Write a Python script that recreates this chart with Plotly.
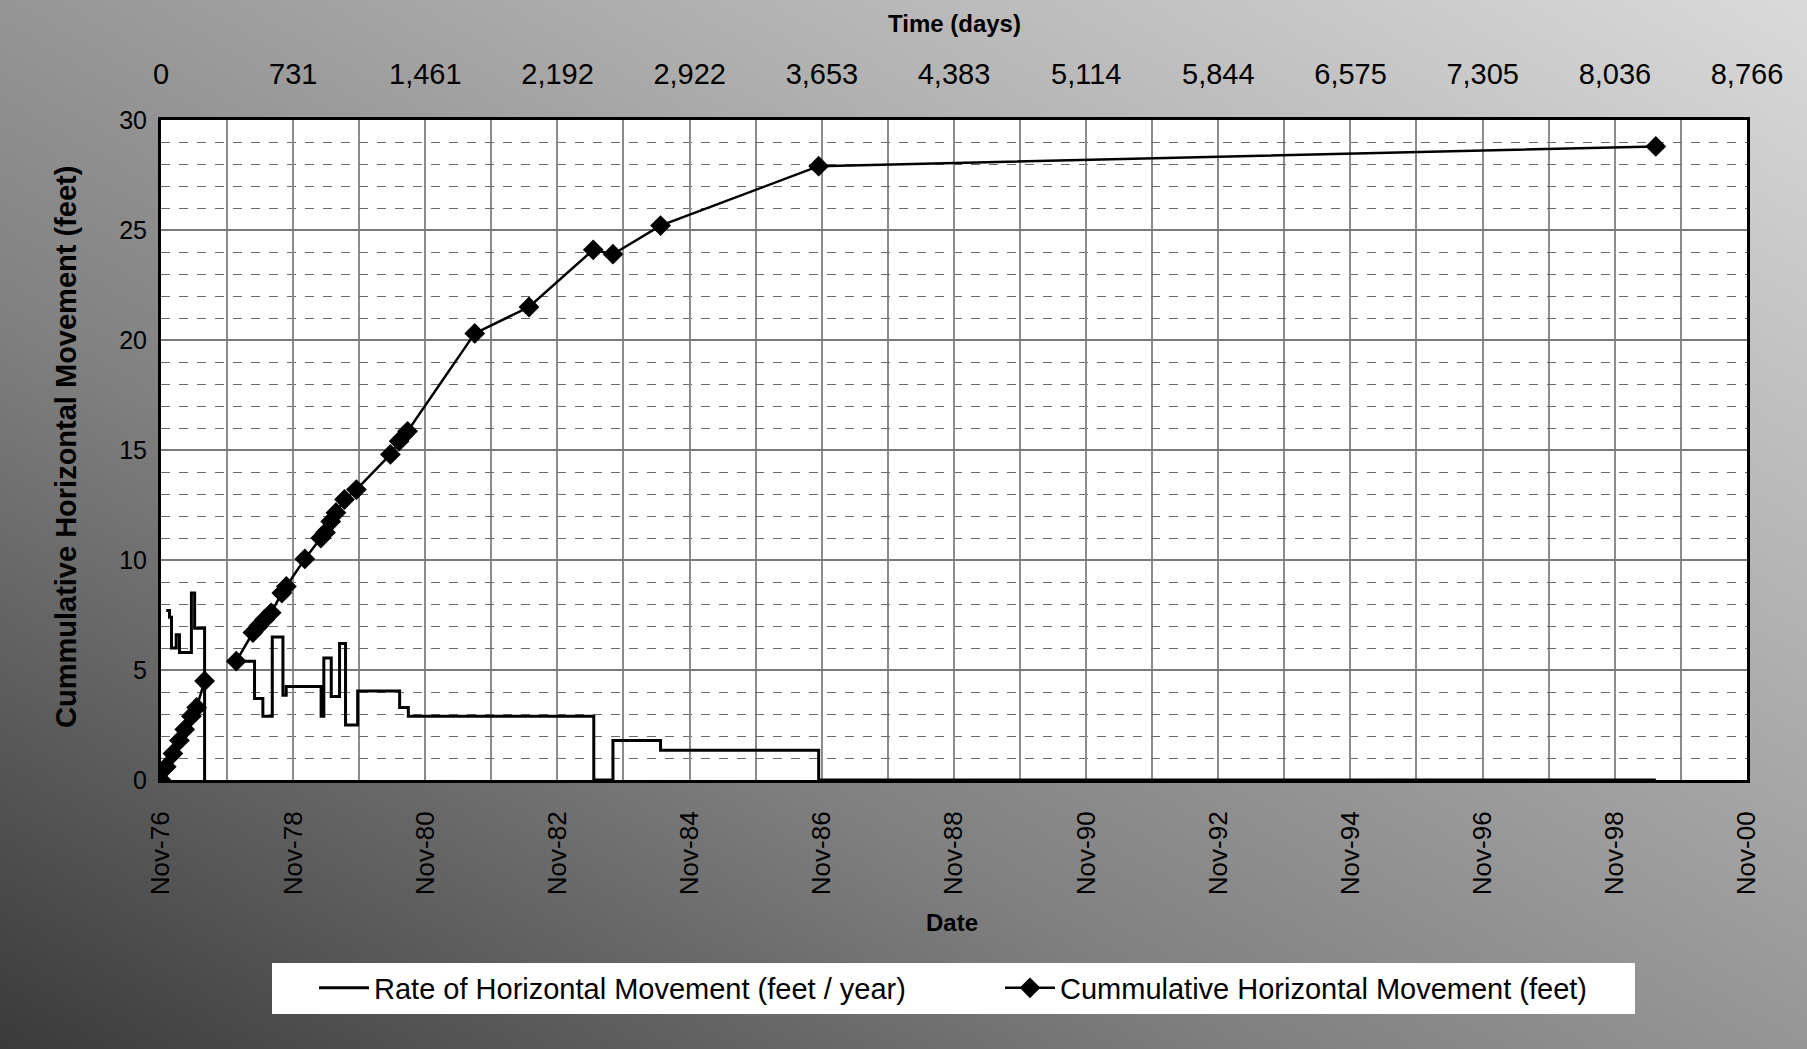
import base64
import plotly.graph_objects as go

# ---------------- data ----------------
rate_dates = ["1976-11-30", "1976-12-18", "1976-12-29", "1977-01-24", "1977-02-11",
              "1977-04-18", "1977-05-06", "1977-06-30", "1977-09-01",
              "1977-11-30", "1978-04-02", "1978-05-18", "1978-07-09", "1978-09-06",
              "1978-09-24", "1979-04-05", "1979-04-20", "1979-05-31", "1979-07-16",
              "1979-08-18", "1979-10-24", "1980-06-12", "1980-07-30", "1983-05-21",
              "1983-09-04", "1984-05-24", "1986-10-15", "1999-06-16"]
rate_vals = [7.7, 7.4, 6.0, 6.6, 5.8, 8.5, 6.9, 0, None,
             5.4, 3.7, 2.9, 6.5, 3.85, 4.25, 2.9, 5.55, 3.8, 6.2, 2.5, 4.05,
             3.3, 2.9, 0, 1.8, 1.35, 0, 0]

cum_dates = ["1976-11-01", "1976-11-30", "1977-01-06", "1977-02-11", "1977-03-12",
             "1977-04-18", "1977-05-17", "1977-06-30", "1977-09-01",
             "1977-12-22", "1978-03-24", "1978-04-25", "1978-05-28", "1978-07-03",
             "1978-08-31", "1978-09-25", "1979-01-05", "1979-04-03", "1979-04-29",
             "1979-05-28", "1979-06-26", "1979-08-12", "1979-10-17", "1980-04-22",
             "1980-06-09", "1980-07-26", "1981-08-01", "1982-05-28", "1983-05-18",
             "1983-09-04", "1984-05-24", "1986-10-15", "1999-06-16"]
cum_vals = [0, 0.6, 1.2, 1.8, 2.3, 2.9, 3.3, 4.5, None,
            5.4, 6.7, 7.0, 7.3, 7.6, 8.5, 8.8, 10.05, 11.0, 11.25, 11.75, 12.15,
            12.75, 13.2, 14.8, 15.4, 15.85, 20.3, 21.5, 24.1, 23.9, 25.2, 27.9, 28.8]

day_ticks = [0, 731, 1461, 2192, 2922, 3653, 4383, 5114, 5844, 6575, 7305, 8036, 8766]
day_tick_labels = ["0", "731", "1,461", "2,192", "2,922", "3,653", "4,383", "5,114",
                   "5,844", "6,575", "7,305", "8,036", "8,766"]

date_range = ["1976-11-01", "2000-11-01"]

# ---------------- figure ----------------
W, H = 1807, 1049
L, R, T, B = 161, 60, 120, 269
PW, PH = W - L - R, H - T - B

FONT = "Liberation Sans, Arial, sans-serif"


def px_x(xf):
    return (xf - L) / PW


def px_y(yf):
    return (T + PH - yf) / PH


fig = go.Figure()
fig.add_trace(go.Scatter(
    x=rate_dates, y=rate_vals, mode="lines", line_shape="hv",
    line=dict(color="black", width=3), connectgaps=False,
    name="Rate of Horizontal Movement (feet / year)"))
fig.add_trace(go.Scatter(
    x=cum_dates, y=cum_vals, mode="lines+markers", connectgaps=False,
    line=dict(color="black", width=2.5),
    marker=dict(symbol="diamond", size=16, color="black"),
    name="Cummulative Horizontal Movement (feet)"))
fig.add_trace(go.Scatter(x=[day_ticks[0], day_ticks[-1]], y=[None, None], xaxis="x2",
                         mode="lines", showlegend=False, hoverinfo="skip"))

svg = ("<svg xmlns='http://www.w3.org/2000/svg' width='%d' height='%d'>"
       "<defs><linearGradient id='g' x1='0' y1='1' x2='1' y2='0'>"
       "<stop offset='0' stop-color='#3a3a3a'/>"
       "<stop offset='0.35' stop-color='#808080'/>"
       "<stop offset='0.7' stop-color='#b2b2b2'/>"
       "<stop offset='1' stop-color='#dadada'/>"
       "</linearGradient></defs>"
       "<rect width='100%%' height='100%%' fill='url(#g)'/>"
       "<rect x='%d' y='%d' width='%d' height='%d' fill='white'/>"
       "<rect x='272' y='963' width='1363' height='51' fill='white'/>"
       "</svg>") % (W, H, L, T, PW, PH)
src = "data:image/svg+xml;base64," + base64.b64encode(svg.encode()).decode()

fig.update_layout(
    width=W, height=H,
    margin=dict(l=L, r=R, t=T, b=B),
    paper_bgcolor="#9a9a9a",
    plot_bgcolor="rgba(0,0,0,0)",
    font=dict(family=FONT, size=25, color="black"),
    images=[dict(source=src, xref="paper", yref="paper",
                 x=-L / PW, y=1 + T / PH, sizex=W / PW, sizey=H / PH,
                 xanchor="left", yanchor="top", sizing="stretch", layer="below")],
    xaxis=dict(
        type="date", range=date_range, dtick="M24", tick0="1976-11-01",
        tickformat="%b-%y", tickangle=-90, tickfont=dict(size=26),
        showgrid=True, gridcolor="#8c8c8c", gridwidth=1.5,
        minor=dict(dtick="M12", tick0="1976-11-01", showgrid=True,
                   gridcolor="#8c8c8c", gridwidth=1.5),
        showline=True, linecolor="black", linewidth=3, mirror=True,
        ticks="", ticklabelstandoff=18, zeroline=False),
    xaxis2=dict(
        overlaying="x", side="top", range=[day_ticks[0], day_ticks[-1]],
        tickmode="array", tickvals=day_ticks, ticktext=day_tick_labels,
        tickfont=dict(size=29), showgrid=False, ticks="", ticklabelstandoff=29,
        zeroline=False, showline=False),
    yaxis=dict(
        range=[0, 30], dtick=5, tickfont=dict(size=25),
        showgrid=True, gridcolor="#7a7a7a", gridwidth=1.5,
        minor=dict(dtick=1, showgrid=True, gridcolor="#6a6a6a",
                   griddash="dash", gridwidth=1.2),
        showline=True, linecolor="black", linewidth=3, mirror=True,
        ticks="", ticklabelstandoff=6, zeroline=False),
    legend=dict(
        orientation="h", x=px_x(314), xanchor="left", y=px_y(988), yanchor="middle",
        bgcolor="rgba(0,0,0,0)", font=dict(size=29), itemwidth=50,
        entrywidth=621, tracegroupgap=0),
    annotations=[
        dict(text="<b>Time (days)</b>", xref="paper", yref="paper",
             x=px_x(954), y=px_y(23), xanchor="center", yanchor="middle",
             showarrow=False, font=dict(size=24)),
        dict(text="<b>Date</b>", xref="paper", yref="paper",
             x=px_x(952), y=px_y(922), xanchor="center", yanchor="middle",
             showarrow=False, font=dict(size=24)),
        dict(text="<b>Cummulative Horizontal Movement (feet)</b>", xref="paper",
             yref="paper", x=px_x(66), y=px_y(447), textangle=-90,
             xanchor="center", yanchor="middle",
             showarrow=False, font=dict(size=29)),
    ],
)

fig.write_html(
    "out.html",
    config={"displayModeBar": False},
    post_script="document.body.style.margin='0';"
                "document.body.style.background='#8a8a8a';"
                "document.body.style.overflow='hidden';")
